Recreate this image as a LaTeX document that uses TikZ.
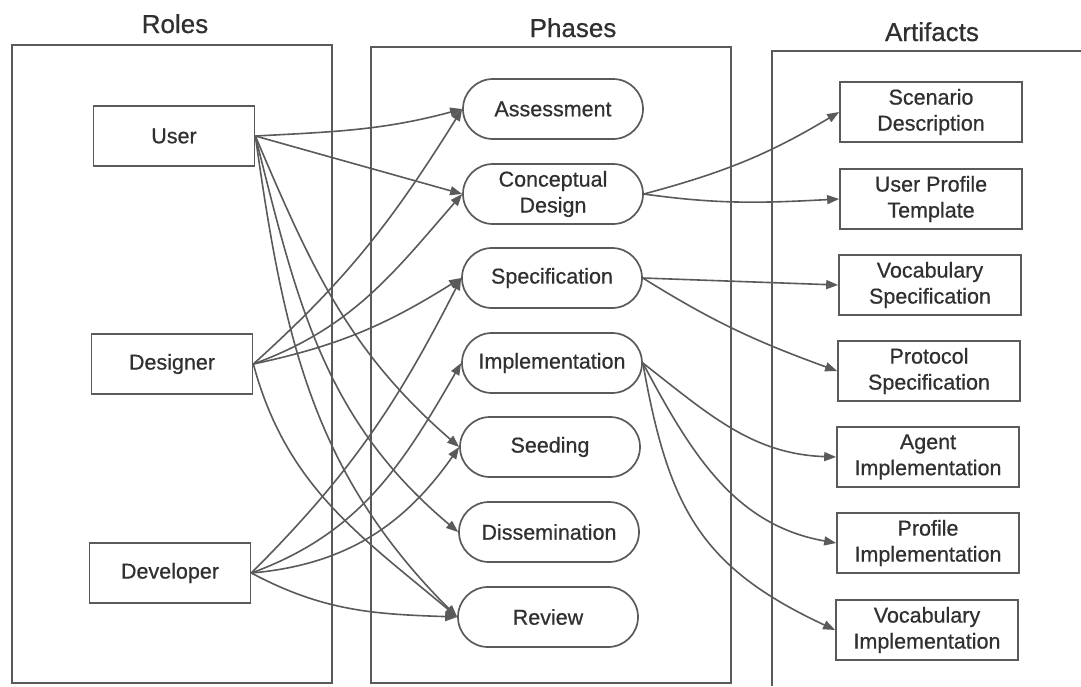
\documentclass[tikz,border=0pt]{standalone}
\usepackage{fontspec}
\setmainfont[FakeBold=0.6]{Liberation Sans}
\usetikzlibrary{arrows.meta,shapes.misc}
\definecolor{ink}{HTML}{5A5A5A}
\definecolor{txt}{HTML}{303030}
\begin{document}
\begin{tikzpicture}[x=1pt,y=1pt,
  every node/.style={text=txt, font=\fontsize{21.5}{26}\selectfont},
  frame/.style={draw=ink, line width=1.9pt},
  header/.style={font=\fontsize{26}{30}\selectfont, anchor=base},
  role/.style={draw=ink, line width=1.7pt, minimum width=161pt, minimum height=60pt, inner sep=0pt},
  phase/.style={draw=ink, line width=1.7pt, rounded rectangle, minimum width=180pt, minimum height=60pt, inner sep=0pt, align=center},
  artifact/.style={draw=ink, line width=1.7pt, minimum width=182pt, minimum height=60pt, inner sep=0pt, align=center},
  link/.style={draw=ink, line width=1.6pt, -{Triangle[length=12pt,width=9pt]}}
]
\useasboundingbox (0,0) rectangle (1081,-686);
\fill[white] (0,0) rectangle (1081,-686);

% column frames
\draw[frame] (12,-45) rectangle (332,-683);
\draw[frame] (371,-47) rectangle (731,-683);
\draw[frame] (772,-686) -- (772,-51) -- (1081,-51);

% column headers
\node[header] (hroles) at (175,-33) {Roles};
\node[header] (hphases) at (573,-37) {Phases};
\node[header] (hartifacts) at (932,-41) {Artifacts};

% roles
\node[role] (user) at (174,-136) {User};
\node[role] (designer) at (172,-364) {Designer};
\node[role] (developer) at (170,-573) {Developer};

% phases
\node[phase] (assess) at (553,-109) {Assessment};
\node[phase] (concept) at (553,-194) {Conceptual\\Design};
\node[phase] (spec) at (552,-278) {Specification};
\node[phase] (impl) at (552,-363) {Implementation};
\node[phase] (seed) at (550,-447) {Seeding};
\node[phase] (dissem) at (549,-532) {Dissemination};
\node[phase] (review) at (548,-617) {Review};

% artifacts
\node[artifact] (scen) at (931,-112) {Scenario\\Description};
\node[artifact] (upt) at (931,-199) {User Profile\\Template};
\node[artifact] (vspec) at (930,-285) {Vocabulary\\Specification};
\node[artifact] (pspec) at (929,-371) {Protocol\\Specification};
\node[artifact] (agent) at (928,-457) {Agent\\Implementation};
\node[artifact] (pimpl) at (928,-543) {Profile\\Implementation};
\node[artifact] (vimpl) at (927,-630) {Vocabulary\\Implementation};

% roles -> phases
\draw[link] (user.east) to[out=3,in=195] (assess.west);
\draw[link] (user.east) -- (concept.west);
\draw[link] (user.east) to[out=-67,in=139] (seed.west);
\draw[link] (user.east) to[out=-76,in=140] (dissem.west);
\draw[link] (user.east) to[out=-82,in=135] (review.west);
\draw[link] (designer.east) to[out=42,in=-122] (assess.west);
\draw[link] (designer.east) to[out=20,in=-131] (concept.west);
\draw[link] (designer.east) to[out=12,in=-148] (spec.west);
\draw[link] (designer.east) to[out=-75,in=140] (review.west);
\draw[link] (developer.east) to[out=45,in=-117] (spec.west);
\draw[link] (developer.east) to[out=20,in=-120] (impl.west);
\draw[link] (developer.east) to[out=5,in=-125] (seed.west);
\draw[link] (developer.east) to[out=-28,in=178] (review.west);

% phases -> artifacts
\draw[link] (concept.east) to[out=15,in=-149] (scen.west);
\draw[link] (concept.east) to[out=-8,in=183] (upt.west);
\draw[link] (spec.east) -- (vspec.west);
\draw[link] (spec.east) to[out=-32,in=160] (pspec.west);
\draw[link] (impl.east) to[out=-38,in=178] (agent.west);
\draw[link] (impl.east) to[out=-62,in=170] (pimpl.west);
\draw[link] (impl.east) to[out=-80,in=155,looseness=1.15] (vimpl.west);
\end{tikzpicture}
\end{document}
